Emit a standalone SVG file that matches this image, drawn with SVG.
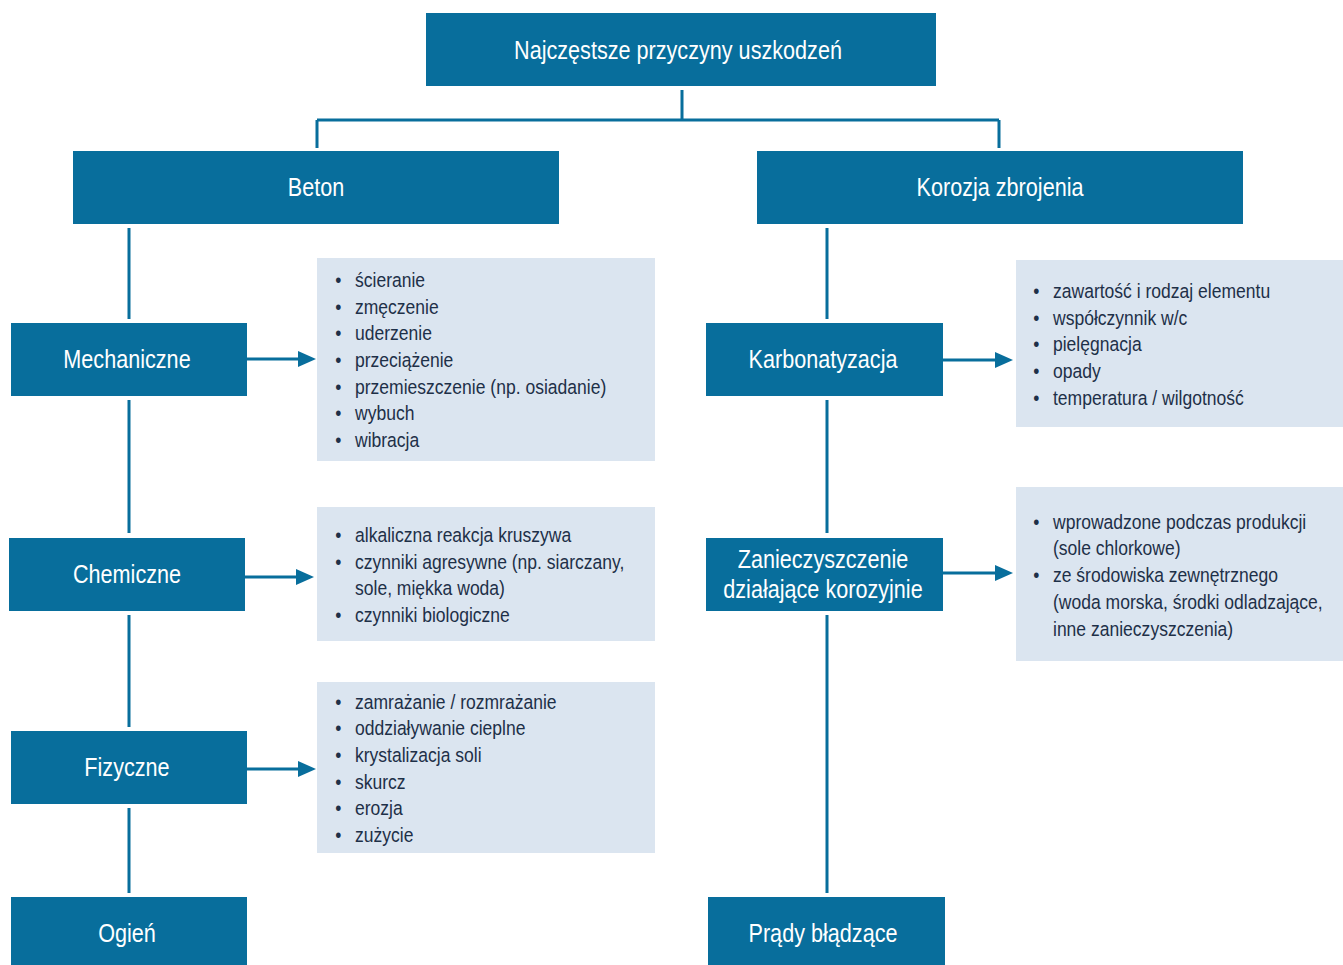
<svg xmlns="http://www.w3.org/2000/svg" width="1343" height="965" viewBox="0 0 1343 965">
<style>
.box{fill:#086e9c}
.info{fill:#dbe5f0}
.bt{font-family:"Liberation Sans",Arial,sans-serif;font-size:25px;fill:#ffffff;text-anchor:middle}
.li{font-family:"Liberation Sans",Arial,sans-serif;font-size:20.5px;fill:#1e3048}
.ln{stroke:#086e9c;stroke-width:3;fill:none}
.ah{fill:#086e9c}
</style>
<rect width="1343" height="965" fill="#ffffff"/>
<g id="connectors">
<path class="ln" d="M682 90V120M317 120H999M317 120V148M999 120V148"/>
<path class="ln" d="M129 228V319M129 400V533M129 615V727M129 808V893"/>
<path class="ln" d="M827 228V319M827 400V533M827 615V893"/>
<path class="ln" d="M247 359H300M245 577H298M247 769H300M943 360H996M943 573H996"/>
<polygon class="ah" points="298,351 316,359 298,367"/>
<polygon class="ah" points="296,569 314,577 296,585"/>
<polygon class="ah" points="298,761 316,769 298,777"/>
<polygon class="ah" points="995,352 1013,360 995,368"/>
<polygon class="ah" points="995,565 1013,573 995,581"/>
</g>
<g id="n-root"><rect class="box" x="426" y="13" width="510" height="73"/><text class="bt" x="678" y="59" transform="matrix(0.865,0,0,1,91.53,0)">Najczęstsze przyczyny uszkodzeń</text></g>
<g id="n-beton"><rect class="box" x="73" y="151" width="486" height="73"/><text class="bt" x="316" y="196" transform="matrix(0.865,0,0,1,42.66,0)">Beton</text></g>
<g id="n-korozja"><rect class="box" x="757" y="151" width="486" height="73"/><text class="bt" x="1000" y="196" transform="matrix(0.865,0,0,1,135,0)">Korozja zbrojenia</text></g>
<g id="n-mech"><rect class="box" x="11" y="323" width="236" height="73"/><text class="bt" x="127" y="368" transform="matrix(0.865,0,0,1,17.145,0)">Mechaniczne</text></g>
<g id="n-chem"><rect class="box" x="9" y="538" width="236" height="73"/><text class="bt" x="127" y="583" transform="matrix(0.865,0,0,1,17.145,0)">Chemiczne</text></g>
<g id="n-fiz"><rect class="box" x="11" y="731" width="236" height="73"/><text class="bt" x="127" y="776" transform="matrix(0.865,0,0,1,17.145,0)">Fizyczne</text></g>
<g id="n-ogien"><rect class="box" x="11" y="897" width="236" height="73"/><text class="bt" x="127" y="942" transform="matrix(0.865,0,0,1,17.145,0)">Ogień</text></g>
<g id="n-karb"><rect class="box" x="706" y="323" width="237" height="73"/><text class="bt" x="823" y="368" transform="matrix(0.865,0,0,1,111.105,0)">Karbonatyzacja</text></g>
<g id="n-zan"><rect class="box" x="706" y="538" width="237" height="73"/><text class="bt" transform="matrix(0.865,0,0,1,111.105,0)"><tspan x="823" y="568">Zanieczyszczenie</tspan><tspan x="823" y="598">działające korozyjnie</tspan></text></g>
<g id="n-prady"><rect class="box" x="708" y="897" width="237" height="73"/><text class="bt" x="823" y="942" transform="matrix(0.865,0,0,1,111.105,0)">Prądy błądzące</text></g>
<g id="l-mech"><rect class="info" x="317" y="258" width="338" height="203"/>
<text class="li" transform="matrix(0.855,0,0,1,51.475,0)"><tspan x="332" y="287">•</tspan><tspan x="355" y="287">ścieranie</tspan><tspan x="332" y="314">•</tspan><tspan x="355" y="314">zmęczenie</tspan><tspan x="332" y="340">•</tspan><tspan x="355" y="340">uderzenie</tspan><tspan x="332" y="367">•</tspan><tspan x="355" y="367">przeciążenie</tspan><tspan x="332" y="394">•</tspan><tspan x="355" y="394">przemieszczenie (np. osiadanie)</tspan><tspan x="332" y="420">•</tspan><tspan x="355" y="420">wybuch</tspan><tspan x="332" y="447">•</tspan><tspan x="355" y="447">wibracja</tspan></text></g>
<g id="l-chem"><rect class="info" x="317" y="507" width="338" height="134"/>
<text class="li" transform="matrix(0.855,0,0,1,51.475,0)"><tspan x="332" y="542">•</tspan><tspan x="355" y="542">alkaliczna reakcja kruszywa</tspan><tspan x="332" y="569">•</tspan><tspan x="355" y="569">czynniki agresywne (np. siarczany,</tspan><tspan x="355" y="595">sole, miękka woda)</tspan><tspan x="332" y="622">•</tspan><tspan x="355" y="622">czynniki biologiczne</tspan></text></g>
<g id="l-fiz"><rect class="info" x="317" y="682" width="338" height="171"/>
<text class="li" transform="matrix(0.855,0,0,1,51.475,0)"><tspan x="332" y="709">•</tspan><tspan x="355" y="709">zamrażanie / rozmrażanie</tspan><tspan x="332" y="735">•</tspan><tspan x="355" y="735">oddziaływanie cieplne</tspan><tspan x="332" y="762">•</tspan><tspan x="355" y="762">krystalizacja soli</tspan><tspan x="332" y="789">•</tspan><tspan x="355" y="789">skurcz</tspan><tspan x="332" y="815">•</tspan><tspan x="355" y="815">erozja</tspan><tspan x="332" y="842">•</tspan><tspan x="355" y="842">zużycie</tspan></text></g>
<g id="l-karb"><rect class="info" x="1016" y="260" width="327" height="167"/>
<text class="li" transform="matrix(0.855,0,0,1,152.685,0)"><tspan x="1030" y="298">•</tspan><tspan x="1053" y="298">zawartość i rodzaj elementu</tspan><tspan x="1030" y="325">•</tspan><tspan x="1053" y="325">współczynnik w/c</tspan><tspan x="1030" y="351">•</tspan><tspan x="1053" y="351">pielęgnacja</tspan><tspan x="1030" y="378">•</tspan><tspan x="1053" y="378">opady</tspan><tspan x="1030" y="405">•</tspan><tspan x="1053" y="405">temperatura / wilgotność</tspan></text></g>
<g id="l-zan"><rect class="info" x="1016" y="487" width="327" height="174"/>
<text class="li" transform="matrix(0.855,0,0,1,152.685,0)"><tspan x="1030" y="529">•</tspan><tspan x="1053" y="529">wprowadzone podczas produkcji</tspan><tspan x="1053" y="555">(sole chlorkowe)</tspan><tspan x="1030" y="582">•</tspan><tspan x="1053" y="582">ze środowiska zewnętrznego</tspan><tspan x="1053" y="609">(woda morska, środki odladzające,</tspan><tspan x="1053" y="636">inne zanieczyszczenia)</tspan></text></g>
</svg>
